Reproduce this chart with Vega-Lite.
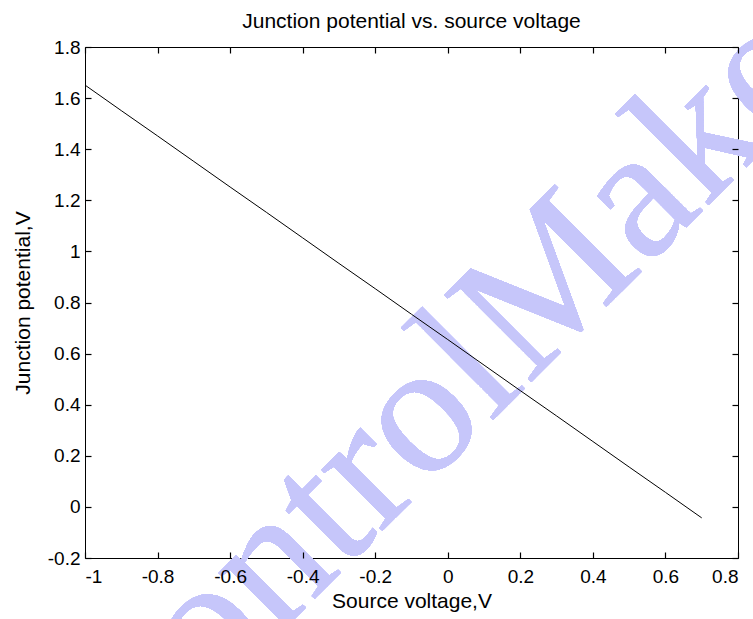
{
  "$schema": "https://vega.github.io/schema/vega-lite/v6.json",
  "autosize": {"type": "none"},
  "padding": {"left": 85, "top": 47, "right": 15, "bottom": 61},
  "width": 653,
  "height": 511,
  "background": "white",
  "title": {
    "text": "Junction potential vs. source voltage",
    "font": "Liberation Sans",
    "fontSize": 21,
    "fontWeight": "normal",
    "color": "black",
    "baseline": "alphabetic",
    "offset": -116,
    "anchor": "middle"
  },
  "config": {
    "view": {"stroke": "black", "strokeWidth": 1},
    "axis": {
      "grid": false,
      "domain": false,
      "labelFont": "Liberation Sans",
      "labelFontSize": 19,
      "labelColor": "black",
      "titleFont": "Liberation Sans",
      "titleFontSize": 21,
      "titleFontWeight": "normal",
      "titleColor": "black",
      "labelExpr": "datum.value + ''"
    }
  },
  "data": {
    "values": [
      {"v": -1.0, "j": 1.651},
      {"v": -0.9, "j": 1.551},
      {"v": -0.8, "j": 1.452},
      {"v": -0.7, "j": 1.352},
      {"v": -0.6, "j": 1.252},
      {"v": -0.5, "j": 1.153},
      {"v": -0.4, "j": 1.053},
      {"v": -0.3, "j": 0.953},
      {"v": -0.2, "j": 0.854},
      {"v": -0.1, "j": 0.754},
      {"v": 0.0, "j": 0.655},
      {"v": 0.1, "j": 0.555},
      {"v": 0.2, "j": 0.455},
      {"v": 0.3, "j": 0.356},
      {"v": 0.4, "j": 0.256},
      {"v": 0.5, "j": 0.156},
      {"v": 0.6, "j": 0.057},
      {"v": 0.7, "j": -0.043}
    ]
  },
  "resolve": {"axis": {"x": "independent", "y": "independent"}},
  "layer": [
    {
      "mark": {"type": "text", "text": "ControlMaker", "font": "Liberation Serif", "fontSize": 188, "angle": -45, "align": "left", "baseline": "alphabetic", "color": "#c6c6fa", "clip": false},
      "encoding": {
        "x": {"datum": -0.9, "type": "quantitative", "scale": {"domain": [-1, 0.8], "nice": false}, "axis": null},
        "y": {"datum": -1.116, "type": "quantitative", "scale": {"domain": [-0.2, 1.8], "nice": false}, "axis": null}
      }
    },
    {
      "mark": {"type": "line", "color": "black", "strokeWidth": 1},
      "encoding": {
        "x": {"field": "v", "type": "quantitative", "scale": {"domain": [-1, 0.8], "nice": false},
              "axis": {"orient": "bottom", "zindex": 2, "offset": -6, "ticks": true, "tickSize": 6, "tickWidth": 1.2, "tickColor": "#000000", "tickOpacity": 1, "values": [-1, -0.8, -0.6, -0.4, -0.2, 0, 0.2, 0.4, 0.6, 0.8], "title": "Source voltage,V", "labelPadding": 9, "titlePadding": 4}},
        "y": {"field": "j", "type": "quantitative", "scale": {"domain": [-0.2, 1.8], "nice": false},
              "axis": {"orient": "left", "zindex": 2, "offset": -6, "ticks": true, "tickSize": 6, "tickWidth": 1.2, "tickColor": "#000000", "tickOpacity": 1, "values": [-0.2, 0, 0.2, 0.4, 0.6, 0.8, 1, 1.2, 1.4, 1.6, 1.8], "title": "Junction potential,V", "labelPadding": 5, "titlePadding": 14}}
      }
    },
    {
      "mark": {"type": "line", "color": "black", "strokeWidth": 1, "opacity": 0},
      "encoding": {
        "x": {"field": "v", "type": "quantitative", "scale": {"domain": [-1, 0.8], "nice": false},
              "axis": {"orient": "top", "zindex": 2, "offset": -6, "ticks": true, "tickSize": 6, "tickWidth": 1.2, "tickColor": "#000000", "tickOpacity": 1, "values": [-1, -0.8, -0.6, -0.4, -0.2, 0, 0.2, 0.4, 0.6, 0.8], "labels": false, "title": null}},
        "y": {"field": "j", "type": "quantitative", "scale": {"domain": [-0.2, 1.8], "nice": false},
              "axis": {"orient": "right", "zindex": 2, "offset": -6, "ticks": true, "tickSize": 6, "tickWidth": 1.2, "tickColor": "#000000", "tickOpacity": 1, "values": [-0.2, 0, 0.2, 0.4, 0.6, 0.8, 1, 1.2, 1.4, 1.6, 1.8], "labels": false, "title": null}}
      }
    }
  ]
}
